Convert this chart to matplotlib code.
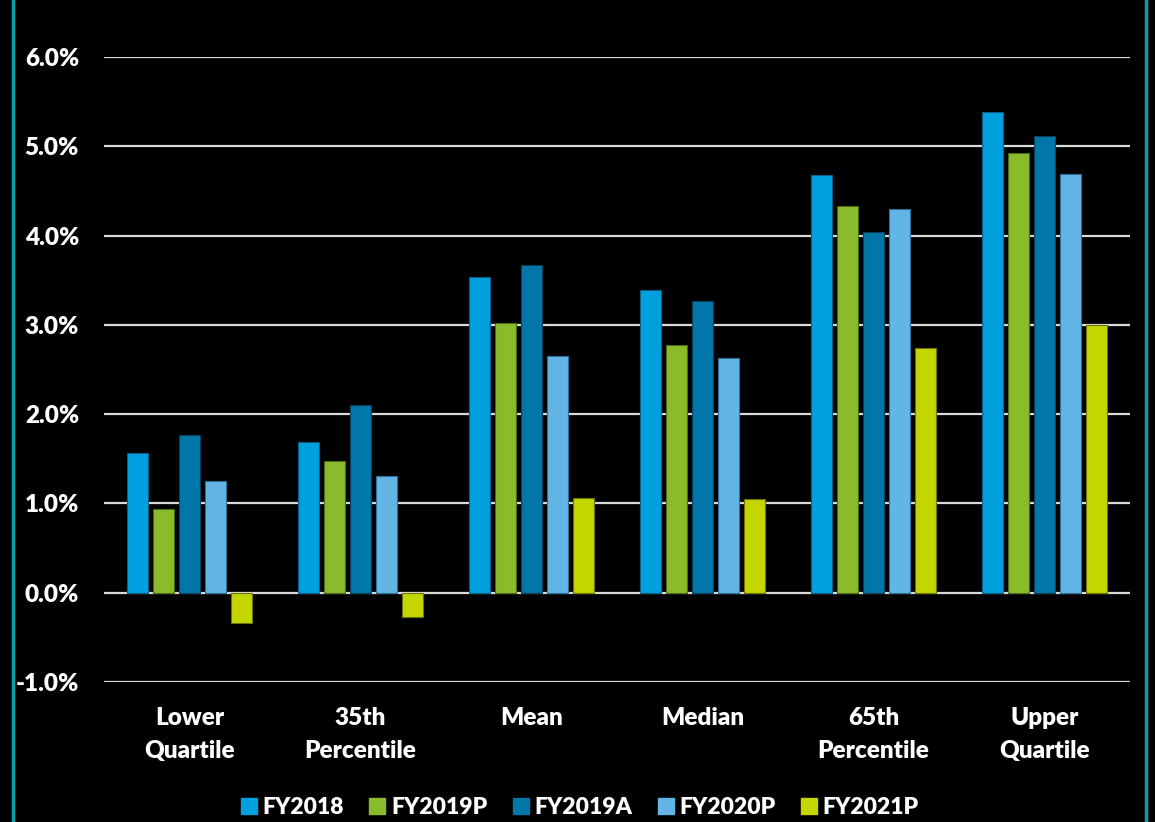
import numpy as np
import matplotlib
matplotlib.use("Agg")
import matplotlib.pyplot as plt
from matplotlib.lines import Line2D

categories = ["Lower\nQuartile", "35th\nPercentile", "Mean", "Median", "65th\nPercentile", "Upper\nQuartile"]
series_names = ["FY2018", "FY2019P", "FY2019A", "FY2020P", "FY2021P"]
fy2018 = [1.57, 1.69, 3.54, 3.39, 4.68, 5.38]
fy2019p = [0.94, 1.48, 3.02, 2.78, 4.33, 4.92]
fy2019a = [1.77, 2.10, 3.67, 3.27, 4.04, 5.12]
fy2020p = [1.25, 1.31, 2.65, 2.63, 4.30, 4.69]
fy2021p = [-0.34, -0.27, 1.06, 1.05, 2.74, 3.00]
colors = ["#00A0DF", "#8ABB2A", "#0077A8", "#62B5E5", "#C4D600"]
edges = ["#0a5f84", "#4d6a18", "#0a3f5c", "#2f6f95", "#6b7500"]

plt.rcParams["font.family"] = ["Lato", "DejaVu Sans"]
plt.rcParams["font.weight"] = "heavy"

fig = plt.figure(figsize=(11.55, 8.22), dpi=100, facecolor="black")
ax = fig.add_axes([104 / 1155, 140 / 822, 1026 / 1155, 625 / 822])
ax.set_facecolor("black")

x = np.arange(len(categories))
step = 0.152
width = 0.123
all_series = [fy2018, fy2019p, fy2019a, fy2020p, fy2021p]
for i, vals in enumerate(all_series):
    ax.bar(x + (i - 2) * step, vals, width, color=colors[i], edgecolor=edges[i],
           linewidth=0.8, zorder=3, label=series_names[i])

ax.set_xlim(-0.5, len(categories) - 0.5)
ax.set_ylim(-1, 6)
ax.set_yticks(np.arange(-1, 7, 1))
ax.set_yticklabels([f"{v:.1f}%" for v in np.arange(-1, 7, 1)], fontweight="heavy")
ax.set_xticks(x)
ax.set_xticklabels(categories, linespacing=1.6, fontweight="heavy")
ax.tick_params(axis="y", length=0, pad=18, labelsize=17.5, labelcolor="white")
ax.tick_params(axis="x", length=0, pad=18, labelsize=17.5, labelcolor="white")
ax.yaxis.grid(True, color="#D9D9D9", linewidth=1.6, zorder=0)
ax.set_axisbelow(True)
for s in ax.spines.values():
    s.set_visible(False)

handles = [Line2D([], [], marker="s", linestyle="none", markersize=11,
                  markerfacecolor=c, markeredgecolor=c) for c in colors]
leg = fig.legend(handles, series_names, loc="center", bbox_to_anchor=(0.502, 0.018),
                 ncol=5, frameon=False, prop={"size": 16.5, "weight": "heavy"},
                 handlelength=0.7, handletextpad=0.25, columnspacing=1.1, borderaxespad=0)
for t in leg.get_texts():
    t.set_color("white")

# teal frame lines on left and right
fig.add_artist(Line2D([12.5 / 1155, 12.5 / 1155], [0, 1], color="#0A9BAA", linewidth=2.5))
fig.add_artist(Line2D([1145.5 / 1155, 1145.5 / 1155], [0, 1], color="#0A9BAA", linewidth=2.5))

fig.savefig("out.png", dpi=100, facecolor="black")
